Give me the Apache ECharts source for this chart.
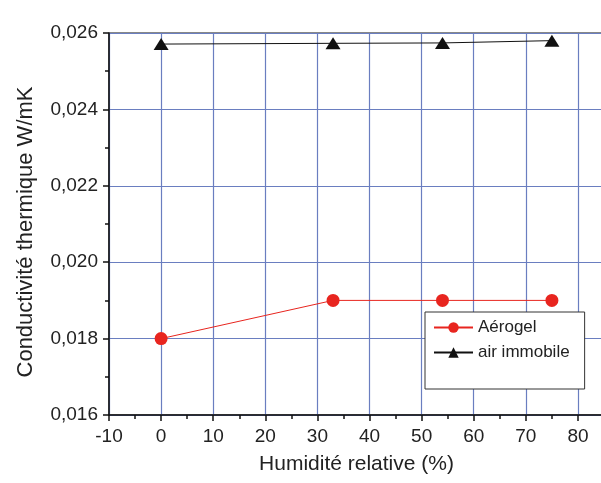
<!DOCTYPE html>
<html><head><meta charset="utf-8">
<script src="https://cdn.jsdelivr.net/npm/echarts@6/dist/echarts.min.js"></script>
<style>html,body{margin:0;padding:0;background:#fff}#c{width:601px;height:483px}</style>
</head><body><div id="c"></div>
<script>
const humidity = [0, 33, 54, 75];
const aerogel = [0.018, 0.019, 0.019, 0.019];
const airImmobile = [0.02571, 0.02573, 0.02574, 0.02580];
const seriesNames = ['Aérogel', 'air immobile'];
const xTitle = 'Humidité relative (%)';
const yTitle = 'Conductivité thermique W/mK';

const font = 'Liberation Sans, Arial, sans-serif';
const chart = echarts.init(document.getElementById('c'), null, {renderer: 'canvas'});
chart.setOption({
  animation: false,
  backgroundColor: '#fff',
  grid: {left: 109, top: 33, width: 495, height: 382, outerBoundsMode: 'none', containLabel: false,
    show: true, borderColor: '#111', borderWidth: 1},
  legend: {
    orient: 'vertical', left: 425, top: 312,
    padding: [7, 15, 28, 8],
    itemWidth: 39, itemHeight: 13, itemGap: 8,
    borderColor: '#333', borderWidth: 1, backgroundColor: '#fff',
    textStyle: {fontFamily: font, fontSize: 17, color: '#222'},
    data: seriesNames
  },
  xAxis: {
    type: 'value', min: -10, max: 85, interval: 10,
    name: xTitle, nameLocation: 'middle', nameGap: 39,
    nameTextStyle: {fontFamily: font, fontSize: 21, color: '#222'},
    axisLine: {show: true, onZero: false, lineStyle: {color: '#111', width: 1.5}},
    axisTick: {show: true, length: 6, lineStyle: {color: '#111', width: 1.5}},
    minorTick: {show: true, splitNumber: 2, length: 4, lineStyle: {color: '#111', width: 1.5}},
    axisLabel: {fontFamily: font, fontSize: 19, color: '#222', margin: 12,
      formatter: v => (v > 80 ? '' : String(v))},
    splitLine: {show: true, lineStyle: {color: '#6a7ec0', width: 1.2}}
  },
  yAxis: {
    type: 'value', min: 0.016, max: 0.026, interval: 0.002,
    name: yTitle, nameLocation: 'middle', nameGap: 72,
    nameTextStyle: {fontFamily: font, fontSize: 22, color: '#222', padding: [0, 16, 0, 0]},
    axisLine: {show: true, onZero: false, lineStyle: {color: '#111', width: 1.5}},
    axisTick: {show: true, length: 6, lineStyle: {color: '#111', width: 1.5}},
    minorTick: {show: true, splitNumber: 2, length: 4, lineStyle: {color: '#111', width: 1.5}},
    axisLabel: {fontFamily: font, fontSize: 19, color: '#222', margin: 11,
      formatter: v => v.toFixed(3).replace('.', ',')},
    splitLine: {show: true, lineStyle: {color: '#6a7ec0', width: 1.2}}
  },
  series: [
    {
      name: seriesNames[0], type: 'line',
      data: humidity.map((h, i) => [h, aerogel[i]]),
      symbol: 'circle', symbolSize: 13,
      itemStyle: {color: '#e8251f'},
      lineStyle: {color: '#e8251f', width: 1}
    },
    {
      name: seriesNames[1], type: 'line',
      data: humidity.map((h, i) => [h, airImmobile[i]]),
      symbol: 'triangle', symbolSize: [15, 12],
      itemStyle: {color: '#111'},
      lineStyle: {color: '#111', width: 1}
    }
  ]
});
</script></body></html>
